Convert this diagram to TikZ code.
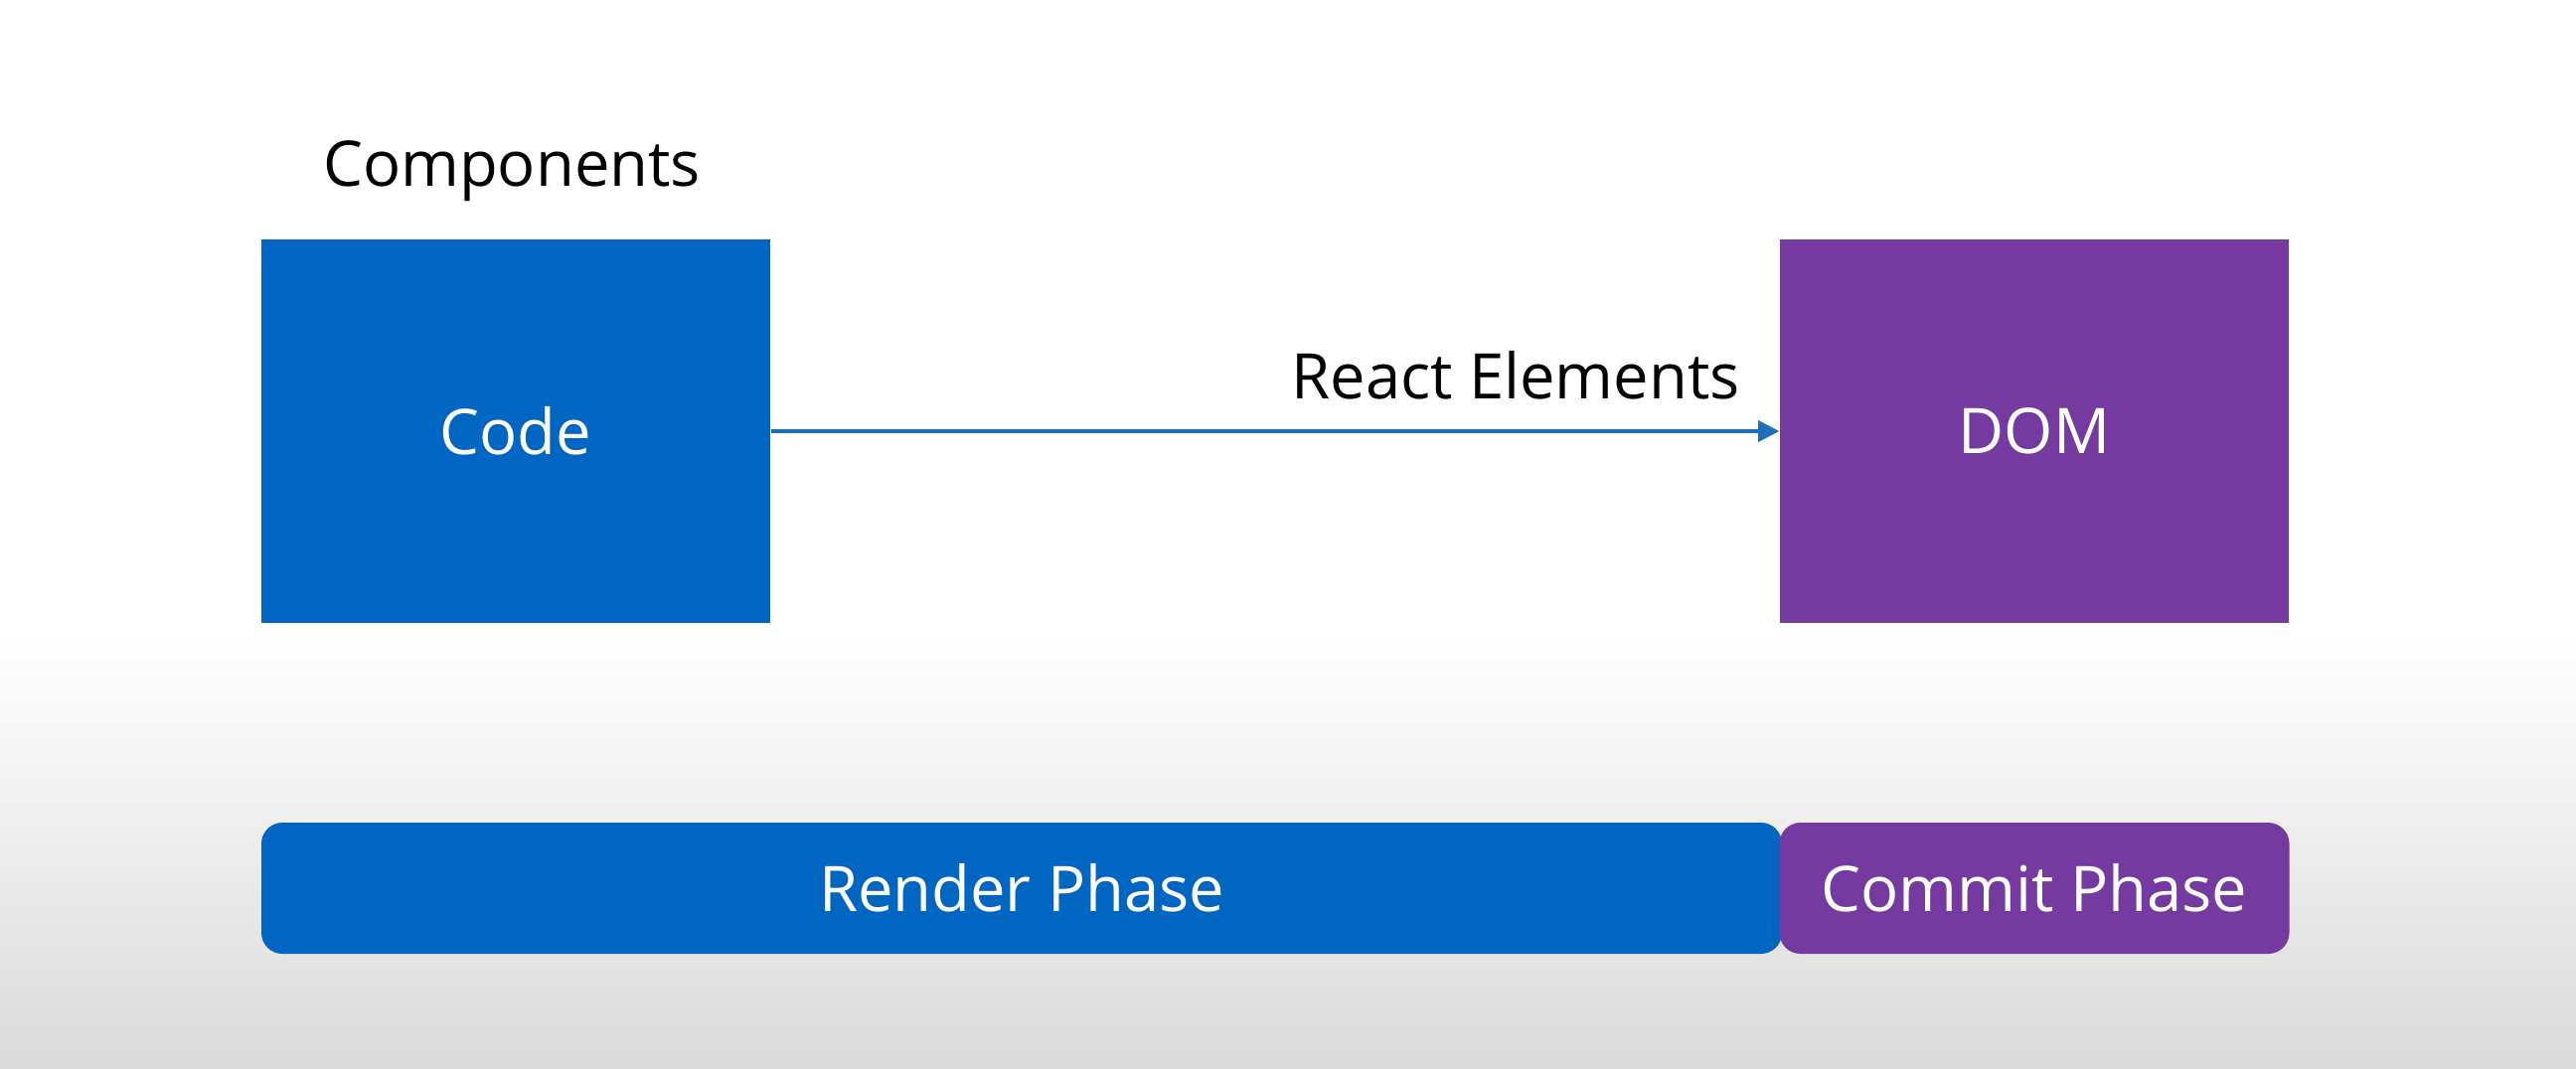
\documentclass[tikz,border=0pt]{standalone}
\usepackage{fontspec}
\setmainfont{Open Sans}
\usetikzlibrary{arrows.meta}
\definecolor{rblue}{RGB}{0,102,194}
\definecolor{rpurple}{RGB}{116,58,160}
\definecolor{abblue}{RGB}{30,110,190}
\definecolor{bggray}{RGB}{218,218,218}
\newlength{\pxu}
\setlength{\pxu}{0.01cm}
\tikzset{
  lbl/.style={font=\fontsize{18pt}{22pt}\selectfont, inner sep=0pt},
  bigbox/.style={draw=none, minimum width=512\pxu, minimum height=386\pxu, inner sep=0pt, text=white, font=\fontsize{18pt}{22pt}\selectfont},
  bar/.style={draw=none, rounded corners=6pt, minimum height=132\pxu, inner sep=0pt, text=white, font=\fontsize{18pt}{22pt}\selectfont},
}
\begin{document}
\begin{tikzpicture}[x=0.01cm, y=-0.01cm]
\useasboundingbox (0,0) rectangle (2592,1075);
\fill[white] (0,0) rectangle (2592,640);
\shade[top color=white, bottom color=bggray] (0,639) rectangle (2592,1075);
\node[lbl, anchor=center] (comp) at (515,172) {Components};
\node[bigbox, fill=rblue] (code) at (519,434) {Code};
\node[bigbox, fill=rpurple] (dom) at (2047,434) {DOM};
\draw[abblue, line width=0.9pt, -{Triangle[length=6pt,width=6pt]}] (code.east) -- (dom.west)
  node[pos=1, anchor=base east, lbl, text=black, yshift=33\pxu, xshift=-38\pxu] (re) {React Elements};
\node[bar, fill=rblue, minimum width=1530\pxu] (render) at (1028,894) {Render Phase};
\node[bar, fill=rpurple, minimum width=513\pxu] (commit) at (2047,894) {Commit Phase};
\end{tikzpicture}
\end{document}
